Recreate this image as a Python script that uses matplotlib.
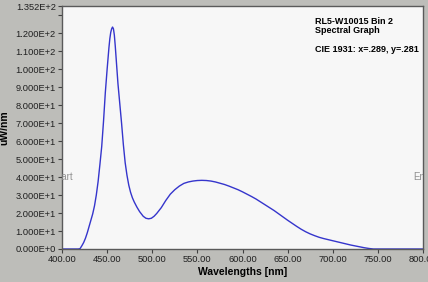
from matplotlib import pyplot as plt
from matplotlib.ticker import FixedLocator
import numpy as np

# spectrum (nm, uW/nm)
wavelength = [400, 410, 418, 420, 422, 424, 426, 428, 430, 432, 434, 436, 438,
              440, 442, 444, 446, 448, 450, 452, 453, 454, 455, 456, 457, 458,
              459, 460, 461, 462, 464, 466, 468, 470, 472, 474, 476, 478, 480,
              483, 486, 490, 493, 496, 499, 502, 505, 510, 515, 520, 525, 530,
              535, 540, 545, 550, 555, 560, 565, 570, 575, 580, 585, 590, 595,
              600, 605, 610, 615, 620, 625, 630, 635, 640, 645, 650, 655, 660,
              665, 670, 675, 680, 685, 690, 695, 700, 705, 710, 715, 720, 725,
              730, 735, 740, 745, 750, 760, 780, 800]
power = [0, 0, 0, 0.2, 1.8, 3.6, 6, 9, 12.5, 16, 19.5, 24, 30,
         37.5, 47, 57, 71, 87, 100, 112, 117, 120.5, 122.5, 123.5, 122.5, 119,
         113, 106, 99, 92, 81, 70, 58, 48, 41, 35.5, 31.5, 28.5, 26.2,
         23.3, 20.8, 18.2, 17.1, 16.8, 17.1, 18.2, 19.8, 23, 27, 30.5, 33, 35,
         36.5, 37.3, 37.8, 38.1, 38.2, 38.1, 37.8, 37.3, 36.6, 35.9, 35, 34, 33,
         31.8, 30.5, 29.2, 27.8, 26.2, 24.6, 23, 21.4, 19.6, 17.8, 16, 14.3, 12.6,
         11, 9.6, 8.4, 7.4, 6.5, 5.8, 5.2, 4.6, 4.0, 3.4, 2.8, 2.2, 1.7,
         1.2, 0.7, 0.3, 0, 0, 0, 0, 0]

x_ticks = [400, 450, 500, 550, 600, 650, 700, 750, 800]
y_ticks = [0, 10, 20, 30, 40, 50, 60, 70, 80, 90, 100, 110, 120, 135.2]
y_minor = [130]

title_lines = ['RL5-W10015 Bin 2', 'Spectral Graph']
cie_text = 'CIE 1931: x=.289, y=.281'

bg = '#bdbdb9'
plt.rcParams['font.family'] = ['Liberation Sans', 'DejaVu Sans']

fig = plt.figure(figsize=(4.28, 2.82), dpi=100, facecolor=bg)
W, H = 428.0, 282.0
ax = fig.add_axes([62 / W, 1 - 249 / H, (423 - 62) / W, (249 - 6) / H])
ax.set_facecolor('#f7f7f7')

ax.plot(wavelength, power, color='#3535cc', linewidth=1.0)

ax.set_xlim(400, 800)
ax.set_ylim(0, 135.2)
ax.set_xticks(x_ticks)
ax.set_xticklabels(['{:.2f}'.format(v) for v in x_ticks])
ax.set_yticks(y_ticks)


def sci_label(v):
    if v == 0:
        return '0.000E+0'
    e = int(np.floor(np.log10(v)))
    return '{:.3f}E+{}'.format(v / 10 ** e, e)


ax.set_yticklabels([sci_label(v) for v in y_ticks])
ax.yaxis.set_minor_locator(FixedLocator(y_minor))
ax.tick_params(axis='both', which='both', direction='out', length=3,
               width=0.8, color='#404040', labelsize=6.7, labelcolor='#202020', pad=1.5)
ax.tick_params(axis='y', which='minor', length=3)

for side in ['left', 'bottom', 'top', 'right']:
    ax.spines[side].set_color('#5a5a5a')
    ax.spines[side].set_linewidth(1)

ax.set_xlabel('Wavelengths [nm]', fontsize=7.5, fontweight='bold', labelpad=2)
ax.set_ylabel('uW/nm', fontsize=7.5, fontweight='bold')
ax.yaxis.set_label_coords((9 - 62) / 361.0, 0.5)

# clipped cursor labels
ax.text(-0.026, 40 / 135.2, 'Start', transform=ax.transAxes, fontsize=7,
        color='#909090', va='center', ha='left', clip_on=True)
ax.text(0.974, 40 / 135.2, 'End', transform=ax.transAxes, fontsize=7,
        color='#909090', va='center', ha='left', clip_on=True)

ax.text(0.701, 0.955, '\n'.join(title_lines), transform=ax.transAxes,
        fontsize=6.5, fontweight='bold', va='top', ha='left', linespacing=1.0)
ax.text(0.701, 0.84, cie_text, transform=ax.transAxes,
        fontsize=6.5, fontweight='bold', va='top', ha='left')

fig.savefig('out.png', dpi=100, facecolor=bg)
